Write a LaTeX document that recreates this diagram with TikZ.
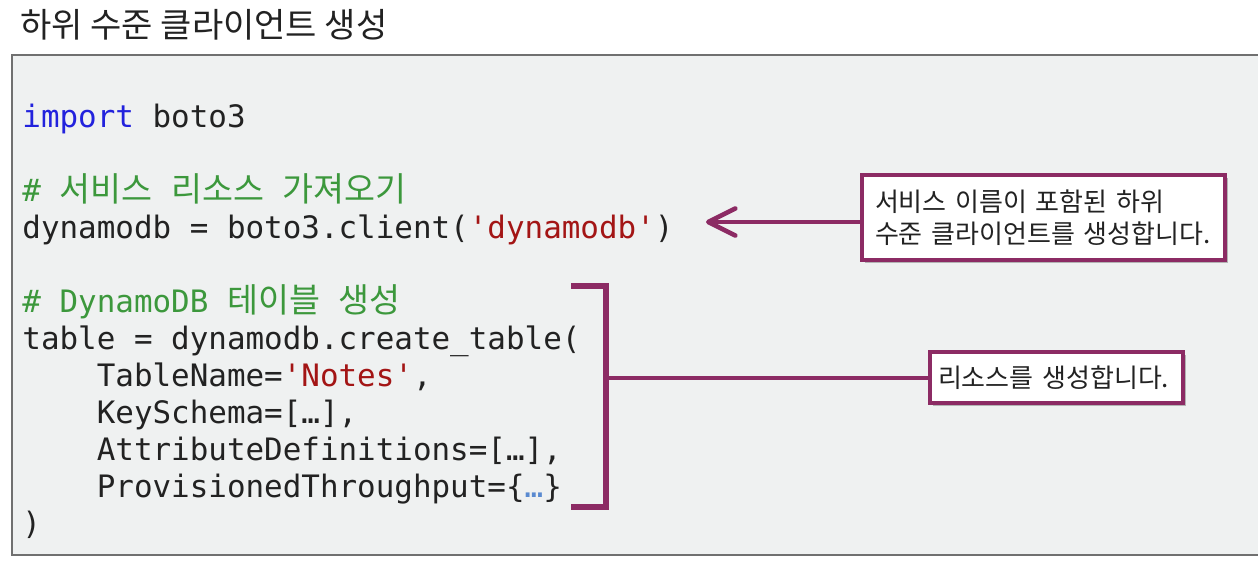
\documentclass[tikz,border=0pt]{standalone}
\usepackage{fontspec}
\usetikzlibrary{arrows.meta,shadows}
\setmonofont{DejaVu Sans Mono}
\newfontfamily\kr{Noto Sans CJK KR}
\newfontfamily\krm{Noto Sans CJK KR}[Scale=1.09]
\definecolor{codebg}{HTML}{EFF1F1}
\definecolor{codeframe}{HTML}{707070}
\definecolor{kwblue}{HTML}{2222DD}
\definecolor{cmgreen}{HTML}{3C983C}
\definecolor{strred}{HTML}{A31515}
\definecolor{ink}{HTML}{222222}
\definecolor{dotblue}{HTML}{5A8AD0}
\definecolor{plum}{HTML}{8C2B64}
\newcommand\ksp{{\ttfamily\ }}
\newcommand\usc{{\char"5F}}
\begin{document}
\begin{tikzpicture}[x=0.5pt,y=-0.5pt,
  codeline/.style={anchor=base west, inner sep=0pt, font=\ttfamily\fontsize{15.45}{18.5}\selectfont, text=ink},
  callout/.style={draw=plum, line width=2.2pt, fill=white, align=left, text=ink,
    font=\kr\fontsize{13}{16}\selectfont,
    drop shadow={shadow xshift=1.3pt, shadow yshift=-1.3pt, fill=black, opacity=0.25}},
  plumline/.style={draw=plum, line width=2.3pt}]
\useasboundingbox (0,0) rectangle (1258,562);
\fill[white] (0,0) rectangle (1258,562);
\node[anchor=base west, inner sep=0pt, font=\kr\fontsize{17}{19}\selectfont, text=ink] (title) at (20,37) {하위 수준 클라이언트 생성};
\draw[fill=codebg, draw=codeframe, line width=0.8pt] (12,55) -- (1275,55) -- (1275,555) -- (12,555) -- cycle;

\node[codeline] (l1) at (22,127) {\textcolor{kwblue}{import} boto3};
\node[codeline, text=cmgreen] (l2) at (22,201) {\# {\krm 서비스}\ksp{\krm 리소스}\ksp{\krm 가져오기}};
\node[codeline] (l3) at (22,238) {dynamodb = boto3.client(\textcolor{strred}{'dynamodb'})};
\node[codeline, text=cmgreen] (l4) at (22,312) {\# DynamoDB {\krm 테이블}\ksp{\krm 생성}};
\node[codeline] (l5) at (22,349) {table = dynamodb.create\usc table(};
\node[codeline] (l6) at (96.4,386) {TableName=\textcolor{strred}{'Notes'},};
\node[codeline] (l7) at (96.4,423) {KeySchema=[…],};
\node[codeline] (l8) at (96.4,460) {AttributeDefinitions=[…],};
\node[codeline] (l9) at (96.4,497) {ProvisionedThroughput=\{\textcolor{dotblue}{…}\}};
\node[codeline] (l10) at (22,534) {)};

\node[callout, minimum width=181.5pt, minimum height=42.5pt, text width=168.5pt, inner xsep=6.5pt] (c1) at (1043.5,217.5)
  {서비스 이름이 포함된 하위\\수준 클라이언트를 생성합니다.};
\node[callout, minimum width=126.5pt, minimum height=25.5pt, text width=118.5pt, inner xsep=4pt] (c2) at (1056.5,377.5)
  {리소스를 생성합니다.};

\coordinate (tip) at (706,222);
\draw[plumline, line cap=round, -{Straight Barb[length=13.5pt,width=13.5pt,round]}] (c1.west |- tip) -- (tip);

\coordinate (bt) at (571,286);
\coordinate (bb) at (571,507);
\coordinate (bm) at (606,377.5);
\draw[plumline, line width=2.6pt, line join=miter] (bt) -- (bt -| bm) -- (bb -| bm) -- (bb);
\draw[plumline, line width=2pt] (bm) -- (c2.west);
\end{tikzpicture}
\end{document}
